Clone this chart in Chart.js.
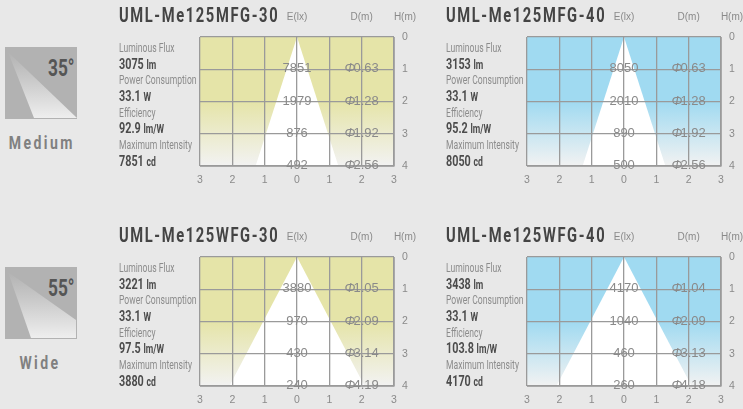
<!DOCTYPE html>
<html>
<head>
<meta charset="utf-8">
<script src="https://cdn.jsdelivr.net/npm/chart.js@4/dist/chart.umd.min.js"></script>
<style>
  html, body { margin: 0; padding: 0; background: #e8e8e8; overflow: hidden; }
  #page { position: relative; width: 743px; height: 409px; overflow: hidden; font-family: Roboto, "Liberation Sans", sans-serif; }
  canvas { position: absolute; }
  .title { position: absolute; font-size: 21px; font-weight: bold; letter-spacing: 2.3px; color: #444; white-space: nowrap; line-height: 20px; transform: scaleX(0.7); transform-origin: left center; }
  .spec { position: absolute; white-space: nowrap; line-height: 14px; transform-origin: left center; }
  .name { font-size: 13px; color: #8c8c8c; transform: scaleX(0.66); }
  .val { font-size: 15px; font-weight: bold; color: #4c4c4c; transform: scaleX(0.72); }
  .val small { font-size: 12px; }
  .icon { position: absolute; left: 5px; width: 72px; height: 72px; }
  .angle { position: absolute; left: 48px; font-size: 24px; font-weight: bold; color: #555; line-height: 24px; transform: scaleX(0.72); transform-origin: left center; }
  .beam { position: absolute; left: 0; width: 80px; text-align: center; font-size: 18px; font-weight: bold; letter-spacing: 3.1px; color: #808080; transform: scaleX(0.78); }
</style>
</head>
<body>
<div id="page"></div>
<script>
// Chart data
const models = ["UML-Me125MFG-30", "UML-Me125MFG-40", "UML-Me125WFG-30", "UML-Me125WFG-40"];
const flux = ["3075", "3153", "3221", "3438"];
const power = ["33.1", "33.1", "33.1", "33.1"];
const efficiency = ["92.9", "95.2", "97.5", "103.8"];
const intensity = ["7851", "8050", "3880", "4170"];
const heights = [1, 2, 3, 4];
const illuminance = [
  [7851, 1979, 876, 492],
  [8050, 2010, 890, 500],
  [3880, 970, 430, 240],
  [4170, 1040, 460, 260],
];
const diameters = [
  ["0.63", "1.28", "1.92", "2.56"],
  ["0.63", "1.28", "1.92", "2.56"],
  ["1.05", "2.09", "3.14", "4.19"],
  ["1.04", "2.09", "3.13", "4.18"],
];
const coneEdge = [1.28, 1.28, 2.09, 2.09];
const xTicks = [-3, -2, -1, 0, 1, 2, 3];
const fillColors = ["#e5e4a8", "#a0daf1", "#e5e4a8", "#a0daf1"];

// Panel placement: chart canvas and the text column next to it
const canvasLeft = [195, 522, 195, 522];
const canvasTop = [11, 11, 231, 231];
const textLeft = [119, 446, 119, 446];
const rowOffset = [0, 0, 220, 220];

const page = document.getElementById("page");
const grey = "#8a8a8a";

// Writes E(lx), D(m), H(m) headers and the values sitting on the grid lines
const panelText = {
  id: "panelText",
  afterDraw(chart, args, opts) {
    const { ctx, scales } = chart;
    const px = scales.x, py = scales.y;
    ctx.save();
    ctx.fillStyle = grey;
    ctx.textBaseline = "middle";
    ctx.textAlign = "center";
    ctx.font = '10px "Liberation Sans"';
    ctx.fillText("E(lx)", px.getPixelForValue(0), 6);
    ctx.fillText("D(m)", px.getPixelForValue(2), 6);
    ctx.fillText("H(m)", px.right + 11, 6);
    opts.heights.forEach((h, i) => {
      const y = py.getPixelForValue(h) - 0.5;
      ctx.textAlign = "center";
      ctx.font = '13px "Liberation Sans"';
      ctx.fillText(opts.lux[i], px.getPixelForValue(0), y);
      const num = opts.dia[i];
      const total = ctx.measureText(num).width + 9;
      const start = px.getPixelForValue(2) - total / 2;
      ctx.textAlign = "left";
      ctx.fillText(num, start + 9, y);
      ctx.font = 'italic 13px "Liberation Sans"';
      ctx.fillText("\u03a6", start, y);
    });
    ctx.restore();
  },
};

function renderPanel(i) {
  const canvas = document.createElement("canvas");
  canvas.width = 234;
  canvas.height = 175;
  canvas.style.left = canvasLeft[i] + "px";
  canvas.style.top = canvasTop[i] + "px";
  page.appendChild(canvas);

  const edge = coneEdge[i];
  new Chart(canvas.getContext("2d"), {
    type: "scatter",
    data: {
      datasets: [
        {
          // white beam cone
          data: [{ x: -edge, y: 4 }, { x: 0, y: 0 }, { x: edge, y: 4 }],
          showLine: true,
          borderWidth: 0,
          pointRadius: 0,
          backgroundColor: "#ffffff",
          fill: { value: 4 },
        },
        {
          // coloured field behind it, fading out to the bottom
          data: [{ x: -3, y: 0 }, { x: 3, y: 0 }],
          showLine: true,
          borderWidth: 0,
          pointRadius: 0,
          fill: { value: 4 },
          backgroundColor(c) {
            const area = c.chart.chartArea;
            if (!area) return fillColors[i];
            const g = c.chart.ctx.createLinearGradient(0, area.top, 0, area.bottom);
            g.addColorStop(0, fillColors[i]);
            g.addColorStop(0.5, fillColors[i]);
            g.addColorStop(1, "#f2f2f2");
            return g;
          },
        },
      ],
    },
    options: {
      responsive: false,
      animation: false,
      layout: { padding: { left: 5, top: 26, right: 0, bottom: 0 } },
      plugins: {
        legend: { display: false },
        tooltip: { enabled: false },
        panelText: { heights: heights, lux: illuminance[i], dia: diameters[i] },
      },
      scales: {
        x: {
          type: "linear",
          min: -3,
          max: 3,
          afterBuildTicks(s) { s.ticks = xTicks.map((v) => ({ value: v })); },
          afterFit(s) { s.height = 20; s.paddingLeft = 0; s.paddingRight = 0; },
          grid: { color: "#9a9a9a", lineWidth: 1.3, drawTicks: false, z: 1 },
          border: { color: "#a8a8a8", z: 2 },
          ticks: {
            padding: 8,
            maxRotation: 0,
            color: grey,
            font: { family: "Liberation Sans", size: 10.5 },
            callback: (v) => Math.abs(v),
          },
        },
        y: {
          type: "linear",
          position: "right",
          reverse: true,
          min: 0,
          max: 4,
          afterFit(s) { s.width = 35; s.paddingTop = 0; s.paddingBottom = 0; },
          grid: { color: "#9a9a9a", lineWidth: 1.3, drawTicks: false, z: 1 },
          border: { color: "#a8a8a8", z: 2 },
          ticks: {
            stepSize: 1,
            padding: 8,
            color: grey,
            font: { family: "Liberation Sans", size: 10.5 },
          },
        },
      },
    },
    plugins: [panelText],
  });
}

function addEl(cls, html, left, top) {
  const el = document.createElement("div");
  el.className = cls;
  el.innerHTML = html;
  if (left !== null) el.style.left = left + "px";
  el.style.top = top + "px";
  page.appendChild(el);
}

// Title and specification column of one panel
function renderSpecs(i) {
  const x = textLeft[i];
  const off = rowOffset[i];
  addEl("title", models[i], x, 5 + off);
  const rows = [
    ["Luminous Flux", flux[i], "lm"],
    ["Power Consumption", power[i], "W"],
    ["Efficiency", efficiency[i], "lm/W"],
    ["Maximum Intensity", intensity[i], "cd"],
  ];
  rows.forEach((row, r) => {
    const top = 41 + r * 32.4 + off;
    addEl("spec name", row[0], x, top);
    addEl("spec val", row[1] + " <small>" + row[2] + "</small>", x, top + 15.5);
  });
}

// Beam angle icon on the left
function renderIcon(top, points, angle, label) {
  const wrap = document.createElement("div");
  wrap.innerHTML =
    '<svg class="icon" style="top:' + top + 'px" viewBox="0 0 72 72">' +
    '<defs><linearGradient id="b' + angle + '" x1="0" y1="0" x2="0" y2="1">' +
    '<stop offset="0" stop-color="#b2b2b2"/><stop offset="0.4" stop-color="#c8c8c8"/><stop offset="1" stop-color="#eeeeee"/></linearGradient></defs>' +
    '<rect width="72" height="72" fill="#b2b2b2"/>' +
    '<polygon points="' + points + '" fill="url(#b' + angle + ')"/></svg>';
  page.appendChild(wrap);
  addEl("angle", angle + "\u00b0", null, top + 9);
  addEl("beam", label, null, top + 85);
}

models.forEach((m, i) => {
  renderPanel(i);
  renderSpecs(i);
});
renderIcon(47, "3,5 29,71 72,71", 35, "Medium");
renderIcon(267, "3,5 26,71 71,71 71,53", 55, "Wide");
</script>
</body>
</html>
